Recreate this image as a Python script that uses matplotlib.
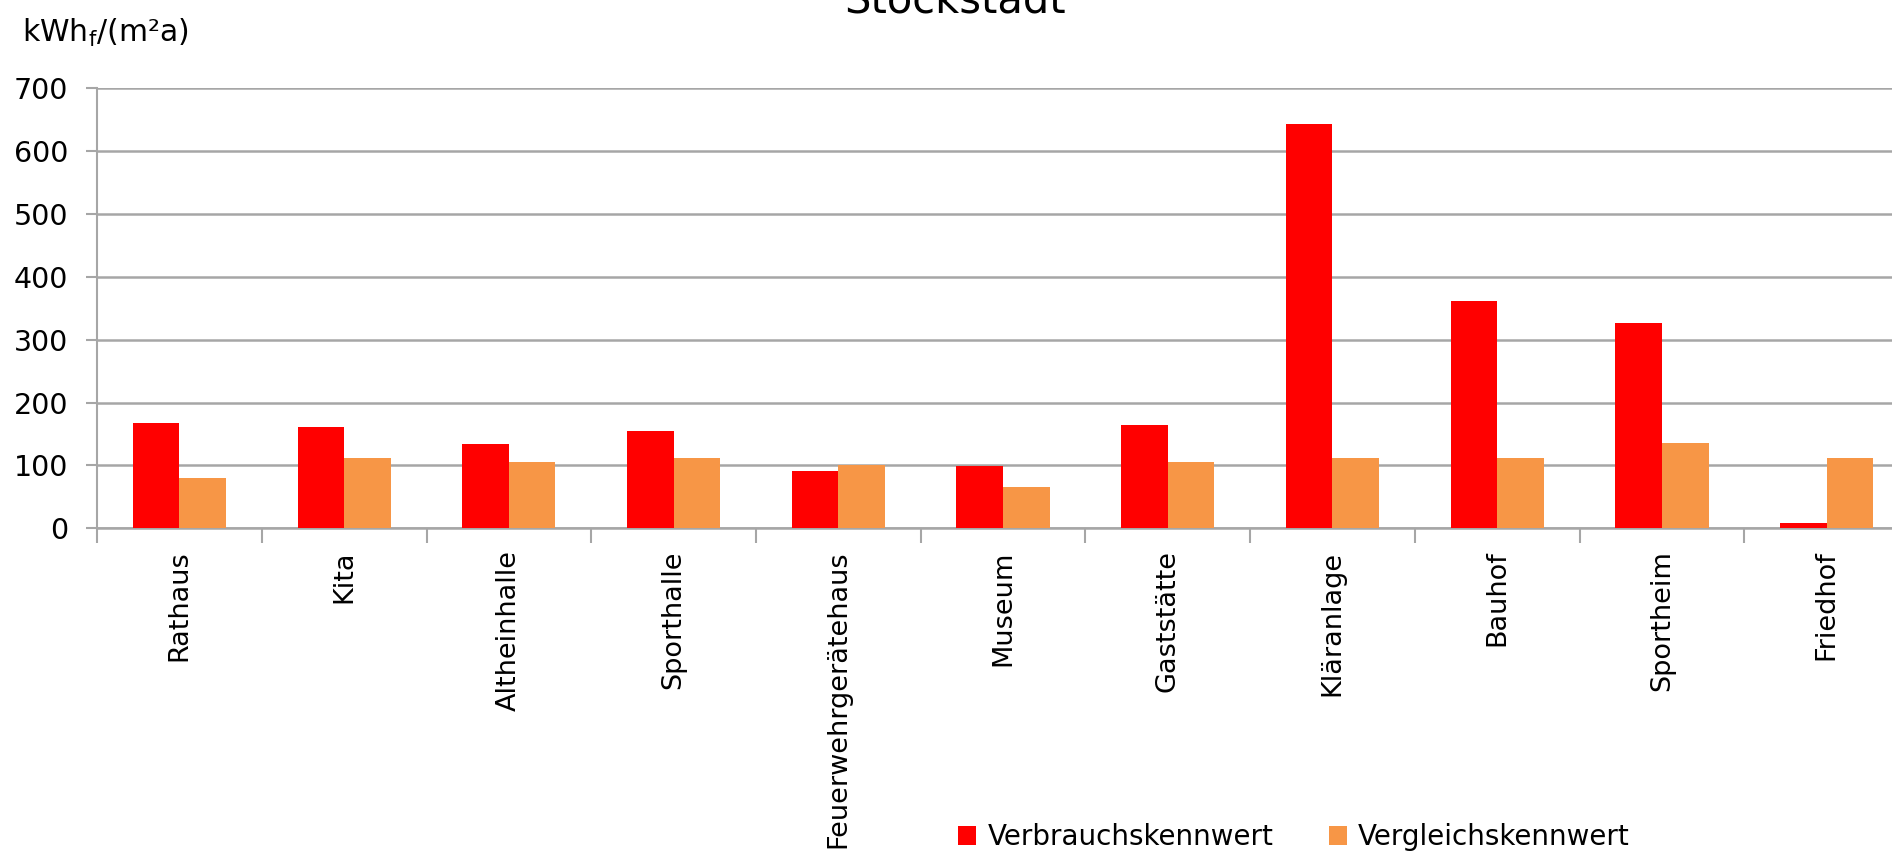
import numpy as np
import matplotlib
matplotlib.use("Agg")
import matplotlib.pyplot as plt

# Daten
gebaeude = ["Rathaus", "Kita", "Altheinhalle", "Sporthalle", "Feuerwehrgerätehaus",
            "Museum", "Gaststätte", "Kläranlage", "Bauhof", "Sportheim", "Friedhof"]
verbrauch = [167, 161, 134, 155, 91, 99, 165, 644, 361, 326, 9]
vergleich = [80, 111, 105, 111, 100, 65, 105, 111, 111, 136, 111]
y_ticks = [0, 100, 200, 300, 400, 500, 600, 700]

rot = "#FF0000"
orange = "#F79646"
grau = "#A6A6A6"

plt.rcParams["font.family"] = ["DejaVu Sans"]

fig = plt.figure(figsize=(18.92, 8.57), dpi=100)
# rechte Kante liegt absichtlich ausserhalb des Bildes (wie im Original abgeschnitten)
ax = fig.add_axes([0.0513, 0.3836, 0.9577, 0.5133])

x = np.arange(len(gebaeude))
b = 0.283
ax.bar(x - b / 2, verbrauch, width=b, color=rot, label="Verbrauchskennwert", zorder=3)
ax.bar(x + b / 2, vergleich, width=b, color=orange, label="Vergleichskennwert", zorder=3)

ax.set_xlim(-0.5, len(gebaeude) - 0.5)
ax.set_ylim(0, 700)
ax.set_yticks(y_ticks)
ax.yaxis.grid(True, color=grau, linewidth=1.8, zorder=0)
ax.set_axisbelow(True)

# Striche an den Grenzen der Kategorien, Beschriftung in der Mitte
ax.set_xticks(np.arange(len(gebaeude) + 1) - 0.5)
ax.set_xticklabels([])
ax.set_xticks(x, minor=True)
ax.set_xticklabels(gebaeude, minor=True, rotation=90, fontsize=19.5)
ax.tick_params(axis="x", which="major", length=11, color=grau, width=1.5)
ax.tick_params(axis="x", which="minor", length=0, pad=16)
ax.tick_params(axis="y", length=8, color=grau, width=1.5, pad=13, labelsize=20.5)

for s in ["top", "right"]:
    ax.spines[s].set_visible(False)
ax.spines["left"].set_color(grau)
ax.spines["left"].set_linewidth(1.5)
ax.spines["bottom"].set_color(grau)
ax.spines["bottom"].set_linewidth(1.8)

# Titel ist im Original oben angeschnitten
fig.text(0.505, 0.985, "Stockstadt", ha="center", va="baseline", fontsize=30)
fig.text(22 / 1892, 1 - 42 / 857, r"kWh$_\mathrm{f}$/(m²a)", ha="left", va="baseline", fontsize=21.5)

fig.legend(loc="center", bbox_to_anchor=(0.684, 0.023), ncol=2, frameon=False,
           fontsize=20, handlelength=0.65, handleheight=0.65, handletextpad=0.4,
           columnspacing=2.0)

fig.savefig("out.png", dpi=100)
